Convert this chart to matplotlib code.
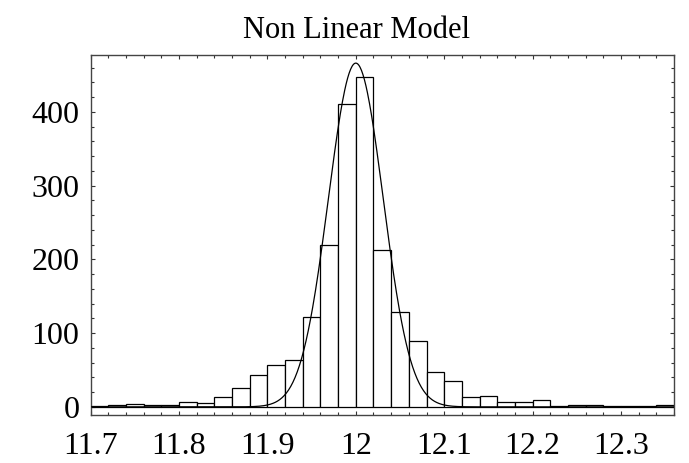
import numpy as np
import matplotlib
matplotlib.use("Agg")
import matplotlib.pyplot as plt
from matplotlib.ticker import MultipleLocator

# Histogram: bins of width 0.02 starting at 11.70
bin_start = 11.70
bin_width = 0.02
counts = [1, 3, 4, 2, 2, 7, 5, 14, 25, 43, 57, 64, 122, 219, 410,
          447, 212, 129, 89, 47, 35, 13, 15, 7, 7, 9, 1, 2, 3, 1,
          1, 1, 2]

# Fitted peak model (Gaussian): amplitude, centre, width
fit_amplitude = 466.0
fit_center = 12.0
fit_sigma = 0.031

x_ticks = [11.7, 11.8, 11.9, 12.0, 12.1, 12.2, 12.3]
x_tick_labels = ["11.7", "11.8", "11.9", "12", "12.1", "12.2", "12.3"]
y_ticks = [0, 100, 200, 300, 400]

plt.rcParams["font.family"] = ["Liberation Serif", "DejaVu Serif"]

fig = plt.figure(figsize=(6.89, 4.63), dpi=100)
ax = fig.add_axes([0.1316, 0.1037, 0.9782 - 0.1316, 0.8812 - 0.1037])

lefts = bin_start + bin_width * np.arange(len(counts))
ax.bar(lefts, counts, width=bin_width, align="edge", facecolor="white",
       edgecolor="black", linewidth=0.9, zorder=2)

xs = np.linspace(11.7, 12.36, 800)
ys = fit_amplitude * np.exp(-0.5 * ((xs - fit_center) / fit_sigma) ** 2)
ax.plot(xs, ys, color="black", linewidth=0.9, zorder=3)

ax.set_xlim(11.7, 12.36)
ax.set_ylim(-11, 477)

ax.set_xticks(x_ticks)
ax.set_xticklabels(x_tick_labels)
ax.set_yticks(y_ticks)
ax.xaxis.set_minor_locator(MultipleLocator(0.02))
ax.yaxis.set_minor_locator(MultipleLocator(20))

ax.tick_params(which="both", direction="in", top=True, right=True,
               color="#333333", width=0.8)
ax.tick_params(which="major", length=3.2, labelsize=23)
ax.tick_params(which="minor", length=1.9)
ax.tick_params(axis="x", which="major", pad=12)
ax.tick_params(axis="y", which="major", pad=8)

for sp in ax.spines.values():
    sp.set_color("#444444")
    sp.set_linewidth(1.0)

# Plot label centred over the whole graphic
fig.text(0.517, 0.935, "Non Linear Model", fontsize=22,
         ha="center", va="center")

fig.savefig("out.png", dpi=100)
